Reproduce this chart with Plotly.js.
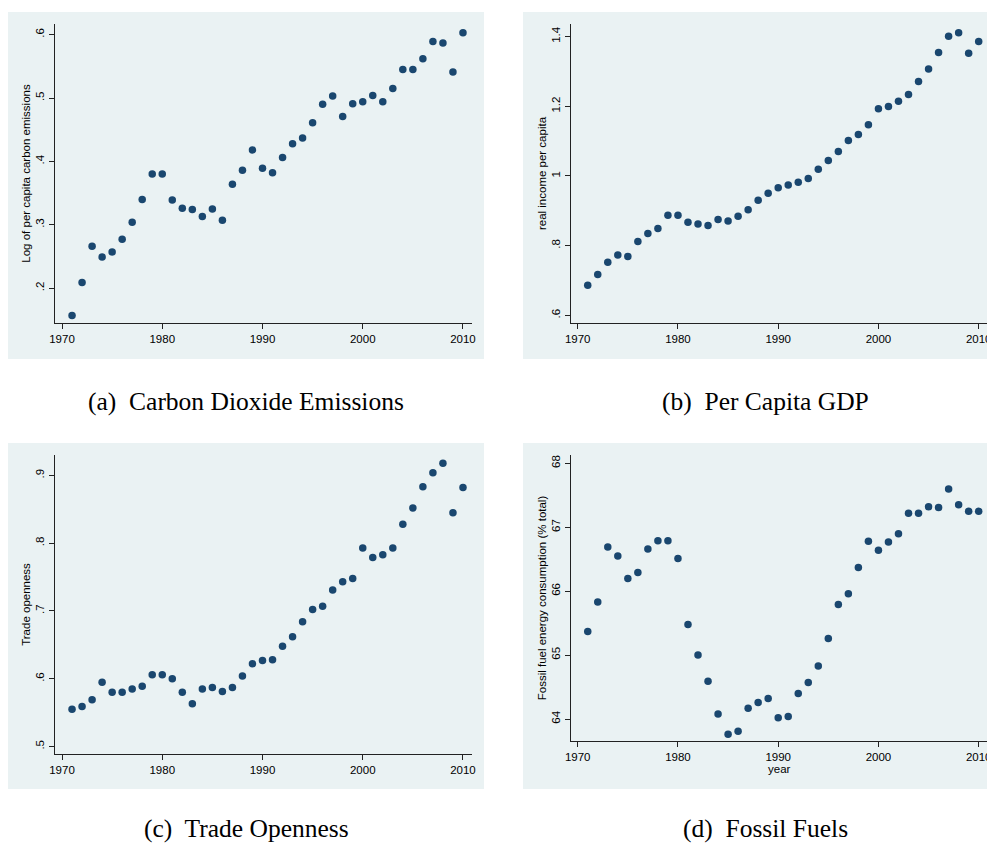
<!DOCTYPE html>
<html>
<head>
<meta charset="utf-8">
<script src="https://cdn.plot.ly/plotly-3.0.1.min.js"></script>
<style>
html,body{margin:0;padding:0;overflow:hidden;background:#fff;}
#chart{width:1000px;height:844px;}
</style>
</head>
<body>
<div id="chart"></div>
<script>
// ---- data ----
const years = [1971,1972,1973,1974,1975,1976,1977,1978,1979,1980,
               1981,1982,1983,1984,1985,1986,1987,1988,1989,1990,
               1991,1992,1993,1994,1995,1996,1997,1998,1999,2000,
               2001,2002,2003,2004,2005,2006,2007,2008,2009,2010];

const co2 = [0.157,0.209,0.266,0.249,0.257,0.277,0.304,0.340,0.380,0.380,
             0.339,0.326,0.324,0.313,0.325,0.307,0.364,0.386,0.418,0.389,
             0.382,0.406,0.428,0.437,0.461,0.490,0.503,0.471,0.491,0.494,
             0.504,0.494,0.515,0.545,0.545,0.562,0.589,0.587,0.541,0.603];

const gdp = [0.686,0.717,0.752,0.773,0.769,0.812,0.835,0.849,0.887,0.887,
             0.867,0.862,0.858,0.875,0.871,0.884,0.903,0.930,0.950,0.966,
             0.974,0.982,0.993,1.019,1.044,1.070,1.102,1.119,1.147,1.193,
             1.199,1.214,1.234,1.271,1.307,1.354,1.401,1.411,1.352,1.386];

const trade = [0.555,0.559,0.569,0.595,0.580,0.580,0.585,0.589,0.606,0.606,
               0.600,0.580,0.563,0.585,0.587,0.581,0.587,0.604,0.622,0.627,
               0.628,0.648,0.662,0.684,0.702,0.707,0.731,0.743,0.748,0.793,
               0.779,0.783,0.793,0.828,0.852,0.883,0.904,0.918,0.845,0.882];

const fossil = [65.37,65.83,66.69,66.55,66.20,66.29,66.66,66.79,66.79,66.51,
                65.48,65.00,64.59,64.08,63.76,63.81,64.17,64.26,64.32,64.02,
                64.04,64.40,64.57,64.83,65.26,65.79,65.96,66.37,66.78,66.64,
                66.77,66.90,67.22,67.22,67.32,67.31,67.60,67.35,67.25,67.25];

const xTicks = [1970,1980,1990,2000,2010];
const xTickText = ["1970","1980","1990","2000","2010"];
const co2Ticks = [0.2,0.3,0.4,0.5,0.6];
const co2TickText = [".2",".3",".4",".5",".6"];
const gdpTicks = [0.6,0.8,1.0,1.2,1.4];
const gdpTickText = [".6",".8","1","1.2","1.4"];
const tradeTicks = [0.5,0.6,0.7,0.8,0.9];
const tradeTickText = [".5",".6",".7",".8",".9"];
const fossilTicks = [64,65,66,67,68];
const fossilTickText = ["64","65","66","67","68"];

const yTitles = ["Log of per capita carbon emissions","real income per capita",
                 "Trade openness","Fossil fuel energy consumption (% total)"];
const captions = ["(a)  Carbon Dioxide Emissions","(b)  Per Capita GDP",
                  "(c)  Trade Openness","(d)  Fossil Fuels"];

// ---- layout helpers ----
const W = 1000, H = 844;
const px = v => v / W;
const py = v => 1 - v / H;

const markerColor = '#1a476f';
const tickFont = {family: 'Liberation Sans, Arial, sans-serif', size: 11.5, color: '#000'};
const titleFont = {family: 'Liberation Sans, Arial, sans-serif', size: 11.5, color: '#000'};

function xAxis(domain, anchor, title) {
  const a = {
    domain: domain, anchor: anchor, range: [1969.3, 2010.9],
    tickmode: 'array', tickvals: xTicks, ticktext: xTickText,
    ticks: 'outside', ticklen: 5, tickwidth: 1, tickcolor: '#222',
    showline: true, linecolor: '#222', linewidth: 1,
    showgrid: false, zeroline: false, tickfont: tickFont,
    fixedrange: true
  };
  if (title) a.title = {text: title, font: titleFont, standoff: 2};
  return a;
}
function yAxis(domain, anchor, range, tv, tt, title) {
  return {
    domain: domain, anchor: anchor, range: range,
    tickmode: 'array', tickvals: tv, ticktext: tt, tickangle: -90,
    ticks: 'outside', ticklen: 5, tickwidth: 1, tickcolor: '#222',
    showline: true, linecolor: '#222', linewidth: 1,
    showgrid: true, gridcolor: '#eaf2f3', gridwidth: 1,
    zeroline: false, tickfont: tickFont,
    title: {text: title, font: titleFont, standoff: 1},
    fixedrange: true
  };
}

function scatter(y, xa, ya) {
  return {
    x: years, y: y, xaxis: xa, yaxis: ya, type: 'scatter', mode: 'markers',
    marker: {color: markerColor, size: 7.5, line: {width: 0}},
    hoverinfo: 'x+y', showlegend: false
  };
}

const data = [
  scatter(co2, 'x', 'y'),
  scatter(gdp, 'x2', 'y2'),
  scatter(trade, 'x3', 'y3'),
  scatter(fossil, 'x4', 'y4')
];

const leftX = [px(55), px(472)];
const rightX = [px(570.7), px(987.7)];
const topY = [py(323), py(24)];
const botY = [py(754), py(455)];
const botYd = [py(741), py(455)];

const panelBg = '#eaf2f3';
function panel(x0, y0, x1, y1) {
  return {type: 'rect', xref: 'paper', yref: 'paper', layer: 'below',
          x0: px(x0), x1: px(x1), y0: py(y1), y1: py(y0),
          fillcolor: panelBg, line: {width: 0}};
}

function caption(text, xc, yc) {
  return {text: text, xref: 'paper', yref: 'paper', x: px(xc), y: py(yc),
          xanchor: 'center', yanchor: 'middle', showarrow: false,
          font: {family: 'Liberation Serif, Times New Roman, serif', size: 25.5, color: '#000'}};
}

const layout = {
  width: W, height: H, autosize: false,
  margin: {l: 0, r: 0, t: 0, b: 0, pad: 0},
  paper_bgcolor: '#ffffff', plot_bgcolor: '#ffffff',
  showlegend: false,
  xaxis: xAxis(leftX, 'y'),
  yaxis: yAxis(topY, 'x', [0.145, 0.6168], co2Ticks, co2TickText, yTitles[0]),
  xaxis2: xAxis(rightX, 'y2'),
  yaxis2: yAxis(topY, 'x2', [0.578, 1.436], gdpTicks, gdpTickText, yTitles[1]),
  xaxis3: xAxis(leftX, 'y3'),
  yaxis3: yAxis(botY, 'x3', [0.489, 0.930], tradeTicks, tradeTickText, yTitles[2]),
  xaxis4: xAxis(rightX, 'y4', 'year'),
  yaxis4: yAxis(botYd, 'x4', [63.656, 68.13], fossilTicks, fossilTickText, yTitles[3]),
  shapes: [
    panel(8, 12, 484, 359),
    panel(523, 12, 999, 359),
    panel(8, 443, 484, 789),
    panel(523, 443, 999, 789)
  ],
  annotations: [
    caption(captions[0], 246, 401),
    caption(captions[1], 765, 401),
    caption(captions[2], 246, 828),
    caption(captions[3], 765, 828)
  ]
};

Plotly.newPlot('chart', data, layout, {staticPlot: true, displayModeBar: false});
</script>
</body>
</html>
